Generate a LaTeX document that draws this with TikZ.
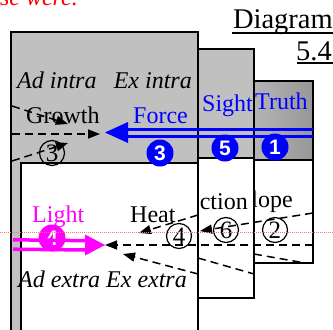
\documentclass[tikz,border=0pt]{standalone}
\usepackage{fontspec}
\setmainfont{Liberation Serif}
\newfontfamily\digitfont{Liberation Sans}
\usetikzlibrary{arrows.meta}
\definecolor{silver}{HTML}{C0C0C0}
\definecolor{truthL}{HTML}{B4B4B4}
\definecolor{truthR}{HTML}{979797}
\definecolor{myblue}{HTML}{0000FF}
\definecolor{mymag}{HTML}{FF00FF}
\definecolor{myred}{HTML}{FF0000}
\definecolor{guide}{HTML}{FF7070}
\begin{document}
\begin{tikzpicture}[x=1pt,y=-1pt,
  txt/.style={inner sep=0, font=\fontsize{24}{28}\selectfont},
  itxt/.style={inner sep=0, font=\fontsize{24}{28}\selectfont\itshape},
  box/.style={draw=black, line width=1.3pt},
  dsh/.style={draw=black, line width=1.5pt, dash pattern=on 8pt off 5pt},
  arr/.style={-{Triangle[length=12pt,width=9pt]}},
  ocirc/.style={circle, draw=black, line width=1.2pt, minimum size=25pt, inner sep=0, font=\fontsize{25}{25}\selectfont},
  fcirc/.style={circle, fill=#1, text=white, minimum size=27pt, inner sep=0, font=\digitfont\bfseries\fontsize{21}{21}\selectfont},
  dbl/.style={line width=3pt}]
\useasboundingbox (0,0) rectangle (333,330);
\clip (0,0) rectangle (333,330);

% clipped red text at top
\node[itxt, anchor=base east, text=myred] (redtxt) at (78,5) {se were.};

% title
\node[inner sep=0, anchor=base east, font=\fontsize{28.5}{30}\selectfont] (diag) at (333,28) {Diagram};
\draw[line width=1.3pt] (232,33) -- (333,33);
\node[inner sep=0, anchor=base east, font=\fontsize{28.5}{30}\selectfont] (num) at (332,60) {5.4};
\draw[line width=1.3pt] (297,63) -- (333,63);

% ---- back layer (Truth) ----
\shadedraw[box, left color=truthL, right color=truthR] (254,81) rectangle (313,160);
\filldraw[box, fill=white] (254,160) rectangle (313,263);
\node[txt, anchor=base west, text=myblue] (truth) at (255,109) {Truth};
\begin{scope}
\clip (255,165) rectangle (312,262);
\node[txt, anchor=base east] (slope) at (293,207) {lope};
\end{scope}
\coordinate (l3a) at (254,254);
\coordinate (l3b) at (305,263);
\draw[dsh] (l3a) -- (l3b);

% ---- middle layer (Sight) ----
\filldraw[box, fill=silver] (198,49) rectangle (254,158);
\filldraw[box, fill=white] (198,158) rectangle (254,298);
\node[txt, anchor=base west, text=myblue] (sight) at (202,111) {Sight};
\node[txt, anchor=base east] (action) at (248,209) {ction};
\coordinate (l2a) at (198,258);
\coordinate (l2b) at (254,274);
\draw[dsh] (l2a) -- (l2b);
\coordinate (cup0) at (313,213);
\coordinate (cup1) at (200,231);
\draw[dsh, arr] (cup0) -- (cup1);
\node[ocirc] (c2) at (275,230) {2};
\node[ocirc] (c6) at (226,230) {6};

% ---- front layer ----
\filldraw[box, fill=silver] (11,32) rectangle (198,345);
\filldraw[box, fill=white] (21,163) rectangle (198,345);

\node[itxt, anchor=base west] (adintra) at (17,88) {Ad intra};
\node[itxt, anchor=base east] (exintra) at (192,88) {Ex intra};
\node[txt, anchor=base west] (growth) at (26,123) {Growth};
\node[txt, anchor=base west, text=myblue] (force) at (133,123) {Force};
\node[txt, anchor=base west, text=mymag] (light) at (32,222) {Light};
\node[txt, anchor=base west] (heat) at (130,222) {Heat};
\node[itxt, anchor=base west] (adextra) at (18,287) {Ad extra Ex extra};

% fan A (upper, from left)
\coordinate (a1s) at (12,106); \coordinate (a1e) at (68,124);
\coordinate (a2s) at (12,134); \coordinate (a2e) at (100,134);
\coordinate (a3s) at (12,161); \coordinate (a3e) at (68,143);
\draw[dsh, arr] (a1s) -- (a1e);
\draw[dsh, arr] (a2s) -- (a2e);
\draw[dsh, arr] (a3s) -- (a3e);

% fan B (lower, from right)
\coordinate (b1s) at (198,215); \coordinate (b1e) at (139,233);
\coordinate (b2s) at (313,245); \coordinate (b2e) at (105,245);
\coordinate (b3s) at (198,274); \coordinate (b3e) at (123,254);
\draw[dsh, arr] (b1s) -- (b1e);
\draw[dsh, arr] (b2s) -- (b2e);
\draw[dsh, arr] (b3s) -- (b3e);

% open circled numbers
\node[ocirc] (c3) at (52,153) {3};
\node[ocirc] (c4) at (179,236) {4};

% filled circled numbers
\node[fcirc=myblue] (f3) at (160,153) {3};
\node[fcirc=myblue] (f5) at (225,148) {5};
\node[fcirc=myblue] (f1) at (275,147) {1};
\node[fcirc=mymag] (f4) at (52,238) {4};

% blue double arrow (right to left)
\coordinate (bstart) at (313,132.5);
\coordinate (btip) at (105,132.5);
\draw[myblue, dbl] ([yshift=-3.5pt]bstart) -- ([xshift=21pt,yshift=-3.5pt]btip);
\draw[myblue, dbl] ([yshift=3.5pt]bstart) -- ([xshift=21pt,yshift=3.5pt]btip);
\fill[myblue] (btip) -- ([xshift=23pt,yshift=-10.5pt]btip) -- ([xshift=23pt,yshift=10.5pt]btip) -- cycle;

% magenta double arrow (left to right)
\coordinate (mstart) at (13,244.5);
\coordinate (mtip) at (105,245);
\draw[mymag, line width=3.5pt] ([yshift=-4.7pt]mstart) -- ([xshift=-18pt,yshift=-5pt]mtip);
\draw[mymag, line width=3.5pt] ([yshift=4.7pt]mstart) -- ([xshift=-18pt,yshift=4.3pt]mtip);
\fill[mymag] (mtip) -- ([xshift=-20pt,yshift=-10.5pt]mtip) -- ([xshift=-20pt,yshift=10.5pt]mtip) -- cycle;

% guide line
\coordinate (g0) at (0,232.5);
\coordinate (g1) at (333,232.5);
\draw[guide, line width=0.6pt, dash pattern=on 1pt off 1pt] (g0) -- (g1);
\end{tikzpicture}
\end{document}
